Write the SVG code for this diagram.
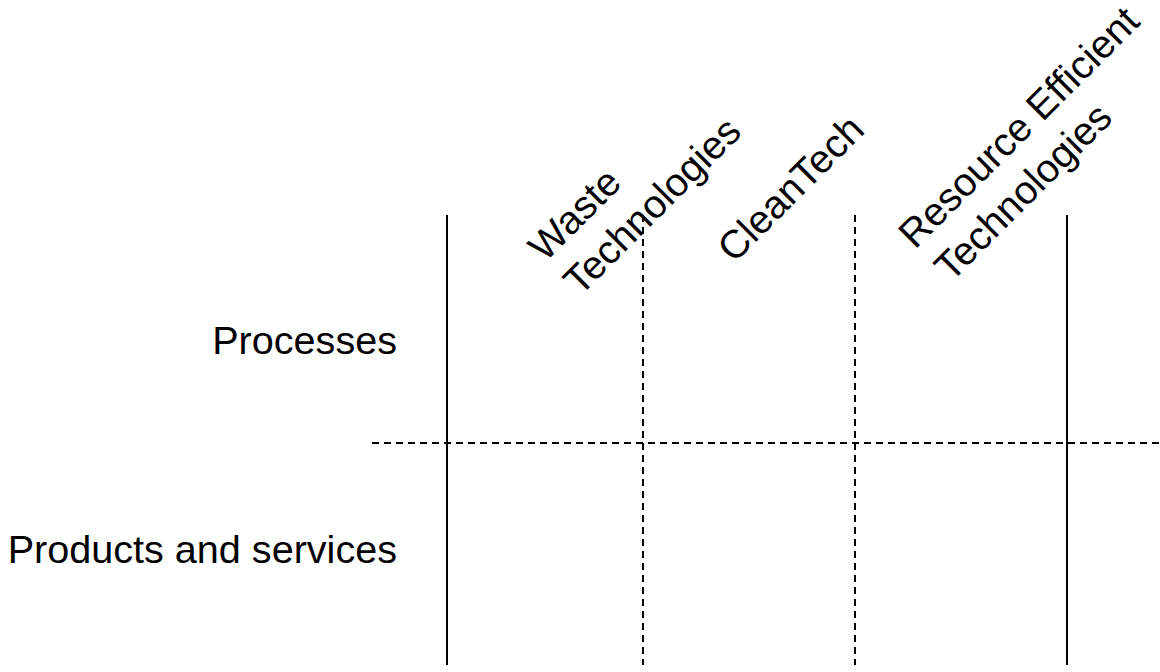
<svg xmlns="http://www.w3.org/2000/svg" width="1160" height="672" viewBox="0 0 1160 672">
<style>
.t{font-family:"Liberation Sans",Arial,sans-serif;font-size:39.6px;fill:#000}
.s{stroke:#000;stroke-width:2;fill:none}
.d{stroke:#000;stroke-width:2;fill:none;stroke-dasharray:7,5}
</style>
<rect width="1160" height="672" fill="#fff"/>
<g id="connectors">
<line class="d" x1="372" y1="443" x2="1160" y2="443"/>
<line class="s" x1="447" y1="215" x2="447" y2="665"/>
<line class="d" x1="643" y1="215" x2="643" y2="665"/>
<line class="d" x1="855" y1="215" x2="855" y2="665"/>
<line class="s" x1="1067" y1="215" x2="1067" y2="665"/>
</g>
<g id="row-processes"><text class="t" x="397" y="354" text-anchor="end">Processes</text></g>
<g id="row-products"><text class="t" x="397" y="563" text-anchor="end">Products and services</text></g>
<g id="col-waste">
<text class="t" transform="translate(545,263) rotate(-45)">Waste</text>
<text class="t" transform="translate(580,297) rotate(-45)">Technologies</text>
</g>
<g id="col-cleantech"><text class="t" transform="translate(734,264) rotate(-45)">CleanTech</text></g>
<g id="col-resource">
<text class="t" transform="translate(915,250) rotate(-45)">Resource Efficient</text>
<text class="t" transform="translate(951,283) rotate(-45)">Technologies</text>
</g>
</svg>
